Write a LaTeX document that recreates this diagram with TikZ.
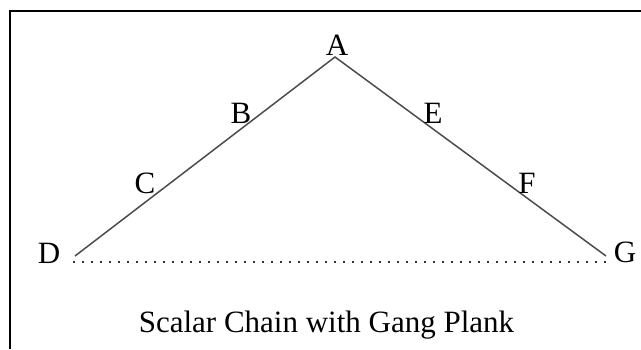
\documentclass[tikz,border=0pt]{standalone}
\usepackage{fontspec}
\setmainfont{Liberation Serif}
\begin{document}
\begin{tikzpicture}[x=1pt,y=-1pt,
  lbl/.style={inner sep=0pt, font=\fontsize{31}{36}\selectfont},
  chain/.style={draw=black!70, line width=1.5pt},
  plank/.style={draw=black!80, line width=1.3pt, dash pattern=on 2pt off 7pt},
  frame/.style={draw=black, line width=2pt}]
\useasboundingbox (0,0) rectangle (641,349);
% frame (top and left edges visible)
\coordinate (f1) at (10,349);
\coordinate (f2) at (10,11);
\coordinate (f3) at (641,11);
\draw[frame] (f1) -- (f2) -- (f3);
% chain ends
\coordinate (apex) at (335,57);
\coordinate (dEnd) at (75,256);
\coordinate (gEnd) at (606,256);
\coordinate (pL) at (73,262);
\coordinate (pR) at (608,262);
\draw[chain] (dEnd) -- (apex) -- (gEnd);
\draw[plank] (pL) -- (pR);
% labels
\node[lbl] (A) at (337,45) {A};
\node[lbl] (B) at (241,113) {B};
\node[lbl] (C) at (145,183) {C};
\node[lbl] (D) at (49,253) {D};
\node[lbl] (E) at (433,113) {E};
\node[lbl] (F) at (527,183) {F};
\node[lbl] (G) at (625,252) {G};
\node[lbl, anchor=base] (cap) at (326.5,332) {Scalar Chain with Gang Plank};
\end{tikzpicture}
\end{document}
